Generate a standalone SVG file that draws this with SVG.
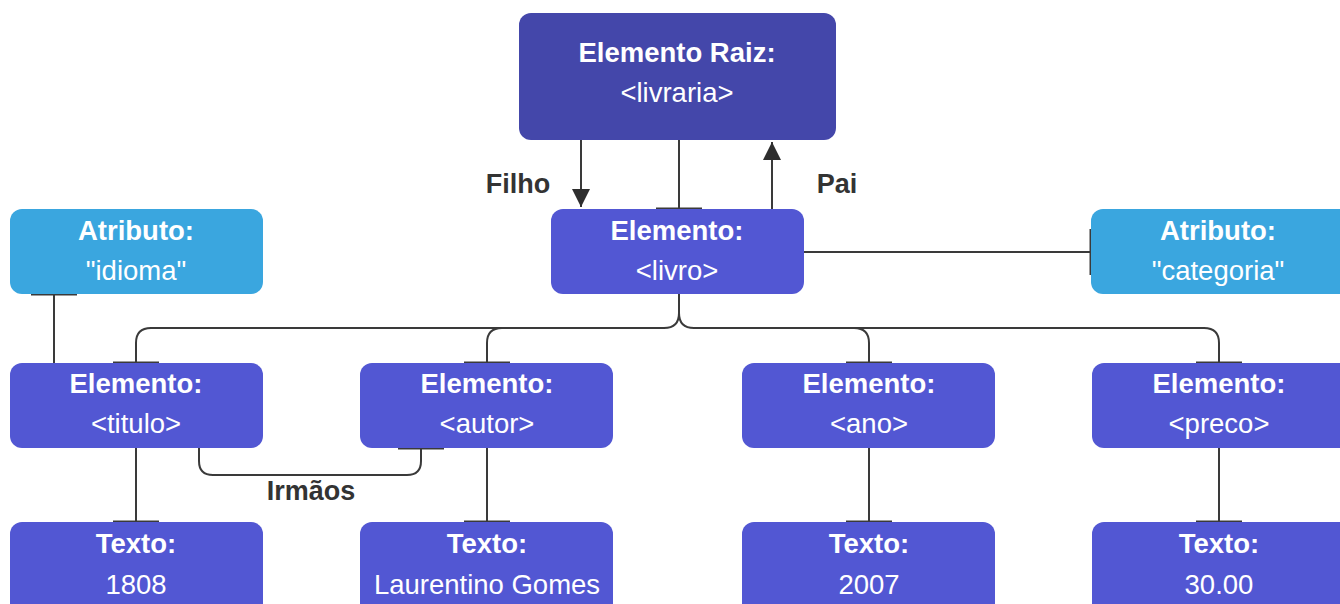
<svg xmlns="http://www.w3.org/2000/svg" width="1340" height="604" viewBox="0 0 1340 604">
<defs>
<style>
.root{fill:#4447AA}
.el{fill:#5257D3}
.at{fill:#3AA6DF}
.t{font-family:"Liberation Sans",Arial,sans-serif;font-size:27.5px;fill:#fff;text-anchor:middle}
.b{font-weight:bold}
.lbl{font-family:"Liberation Sans",Arial,sans-serif;font-size:27px;font-weight:bold;fill:#333;text-anchor:middle}
.c{fill:none;stroke:#3a3a3a;stroke-width:2}
.bar{fill:none;stroke:#3a3a3a;stroke-width:3}
</style>
<marker id="ah" viewBox="0 0 10 10" refX="10" refY="5" markerWidth="18" markerHeight="18" markerUnits="userSpaceOnUse" orient="auto">
<path d="M0,0 L10,5 L0,10 z" fill="#2e2e2e"/>
</marker>
</defs>
<rect width="1340" height="604" fill="#fff"/>
<g id="connectors">
<line class="c" x1="581" y1="140" x2="581" y2="207" marker-end="url(#ah)"/>
<line class="c" x1="772" y1="209" x2="772" y2="142" marker-end="url(#ah)"/>
<line class="c" x1="679" y1="140" x2="679" y2="209"/>
<line class="bar" x1="656" y1="209" x2="702" y2="209"/>
<line class="c" x1="804" y1="252" x2="1091" y2="252"/>
<line class="bar" x1="1091" y1="229" x2="1091" y2="275"/>
<line class="c" x1="54" y1="294" x2="54" y2="363"/>
<line class="bar" x1="31" y1="294" x2="77" y2="294"/>
<path class="c" d="M679,294 V313 Q679,328 664,328 H151 Q136,328 136,343 V363"/>
<path class="c" d="M679,313 Q679,328 694,328 H1204 Q1219,328 1219,343 V363"/>
<path class="c" d="M487,363 V343 Q487,328 502,328"/>
<path class="c" d="M869,363 V343 Q869,328 854,328"/>
<line class="bar" x1="113" y1="363" x2="159" y2="363"/>
<line class="bar" x1="464" y1="363" x2="510" y2="363"/>
<line class="bar" x1="846" y1="363" x2="892" y2="363"/>
<line class="bar" x1="1196" y1="363" x2="1242" y2="363"/>
<line class="c" x1="136" y1="448" x2="136" y2="522"/>
<line class="c" x1="487" y1="448" x2="487" y2="522"/>
<line class="c" x1="869" y1="448" x2="869" y2="522"/>
<line class="c" x1="1219" y1="448" x2="1219" y2="522"/>
<line class="bar" x1="113" y1="522" x2="159" y2="522"/>
<line class="bar" x1="464" y1="522" x2="510" y2="522"/>
<line class="bar" x1="846" y1="522" x2="892" y2="522"/>
<line class="bar" x1="1196" y1="522" x2="1242" y2="522"/>
<path class="c" d="M199,448 V461 Q199,475 213,475 H407 Q421,475 421,461 V448"/>
<line class="bar" x1="398" y1="448" x2="444" y2="448"/>
<text class="lbl" x="518" y="193">Filho</text>
<text class="lbl" x="837" y="193">Pai</text>
<text class="lbl" x="311" y="500">Irmãos</text>
</g>
<g id="root">
<rect class="root" x="519" y="13" width="317" height="127" rx="12"/>
<text class="t b" x="677" y="62">Elemento Raiz:</text>
<text class="t" x="677" y="102">&lt;livraria&gt;</text>
</g>
<g id="livro">
<rect class="el" x="551" y="209" width="253" height="85" rx="12"/>
<text class="t b" x="677" y="240">Elemento:</text>
<text class="t" x="677" y="280">&lt;livro&gt;</text>
</g>
<g id="idioma">
<rect class="at" x="10" y="209" width="253" height="85" rx="12"/>
<text class="t b" x="136" y="240">Atributo:</text>
<text class="t" x="136" y="280">"idioma"</text>
</g>
<g id="categoria">
<rect class="at" x="1091" y="209" width="270" height="85" rx="12"/>
<text class="t b" x="1218" y="240">Atributo:</text>
<text class="t" x="1218" y="280">"categoria"</text>
</g>
<g id="titulo">
<rect class="el" x="10" y="363" width="253" height="85" rx="12"/>
<text class="t b" x="136" y="393">Elemento:</text>
<text class="t" x="136" y="433">&lt;titulo&gt;</text>
</g>
<g id="autor">
<rect class="el" x="360" y="363" width="253" height="85" rx="12"/>
<text class="t b" x="487" y="393">Elemento:</text>
<text class="t" x="487" y="433">&lt;autor&gt;</text>
</g>
<g id="ano">
<rect class="el" x="742" y="363" width="253" height="85" rx="12"/>
<text class="t b" x="869" y="393">Elemento:</text>
<text class="t" x="869" y="433">&lt;ano&gt;</text>
</g>
<g id="preco">
<rect class="el" x="1092" y="363" width="270" height="85" rx="12"/>
<text class="t b" x="1219" y="393">Elemento:</text>
<text class="t" x="1219" y="433">&lt;preco&gt;</text>
</g>
<g id="texto1808">
<rect class="el" x="10" y="522" width="253" height="100" rx="12"/>
<text class="t b" x="136" y="553">Texto:</text>
<text class="t" x="136" y="594">1808</text>
</g>
<g id="textoAutor">
<rect class="el" x="360" y="522" width="253" height="100" rx="12"/>
<text class="t b" x="487" y="553">Texto:</text>
<text class="t" x="487" y="594">Laurentino Gomes</text>
</g>
<g id="texto2007">
<rect class="el" x="742" y="522" width="253" height="100" rx="12"/>
<text class="t b" x="869" y="553">Texto:</text>
<text class="t" x="869" y="594">2007</text>
</g>
<g id="texto3000">
<rect class="el" x="1092" y="522" width="270" height="100" rx="12"/>
<text class="t b" x="1219" y="553">Texto:</text>
<text class="t" x="1219" y="594">30.00</text>
</g>
</svg>
